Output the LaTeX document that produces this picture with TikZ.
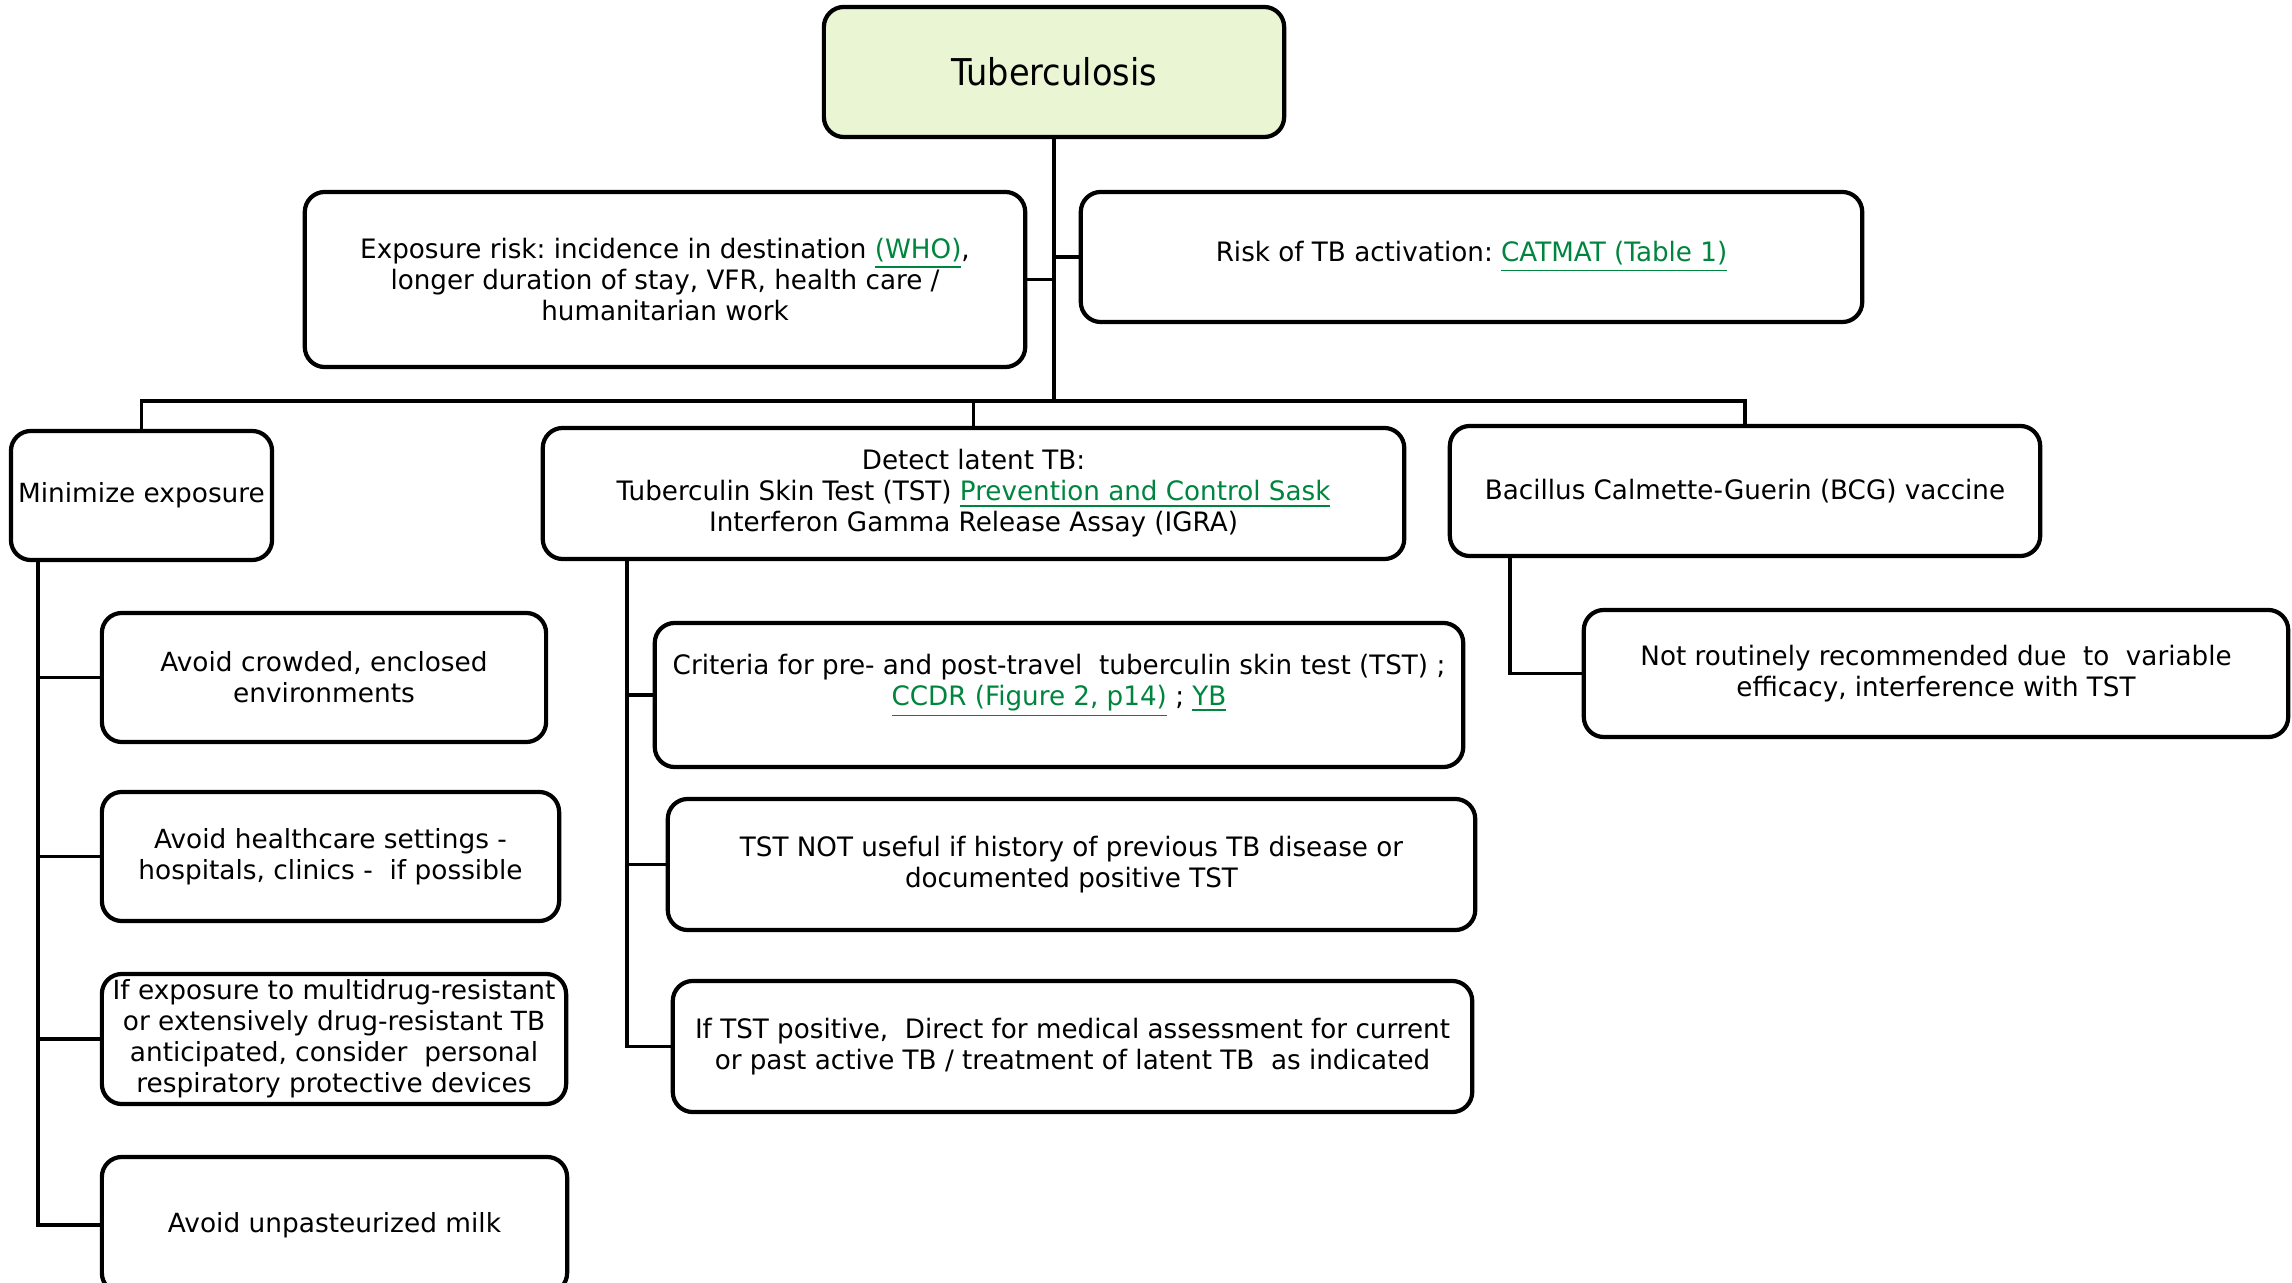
\documentclass[tikz,border=0pt]{standalone}
\usepackage{fontspec}
\setmainfont{DejaVu Sans}[FakeStretch=0.98]
\newfontfamily\widefont{DejaVu Sans}
\newfontfamily\titlefont{DejaVu Sans}[FakeStretch=0.91]
\definecolor{linkgreen}{RGB}{0,133,62}
\definecolor{tbfill}{RGB}{233,245,211}
\newcommand{\lnk}[1]{\textcolor{linkgreen}{\underline{#1}}}
\frenchspacing
\begin{document}
\begin{tikzpicture}[x=0.01cm,y=-0.01cm,
  box/.style={draw=black, line width=1.2pt, rounded corners=0.2cm, align=center, inner sep=0pt,
    font=\fontsize{7.6}{8.8}\selectfont},
  wbox/.style={box, font=\widefont\fontsize{7.5}{8.8}\selectfont},
  conn/.style={line width=1.1pt}]
\useasboundingbox (0,0) rectangle (2292,1283);
\clip (0,0) rectangle (2292,1283);

% top level
\node[box, fill=tbfill, minimum width=4.6cm, minimum height=1.3cm,
  font=\titlefont\fontsize{10.5}{12}\selectfont] (tb) at (1054,72) {Tuberculosis};
\node[box, minimum width=7.2cm, minimum height=1.75cm] (expo) at (665,279.5)
  {Exposure risk: incidence in destination \lnk{(WHO)},\\ longer duration of stay, VFR, health care /\\ humanitarian work};
\node[box, minimum width=7.81cm, minimum height=1.3cm] (risk) at (1471.5,257)
  {Risk of TB activation: \lnk{CATMAT (Table 1)}};

% second level
\node[wbox, minimum width=2.61cm, minimum height=1.29cm] (mini) at (141.5,495.5) {Minimize exposure};
\node[box, minimum width=8.61cm, minimum height=1.31cm] (detect) at (973.5,493.5)
  {Detect latent TB:\\ Tuberculin Skin Test (TST) \lnk{Prevention and Control Sask}\\ Interferon Gamma Release Assay (IGRA)};
\node[box, minimum width=5.9cm, minimum height=1.3cm] (bcg) at (1745,491)
  {Bacillus Calmette-Guerin (BCG) vaccine};

% minimize children
\node[wbox, minimum width=4.44cm, minimum height=1.29cm] (a1) at (324,677.5)
  {Avoid crowded, enclosed\\ environments};
\node[wbox, minimum width=4.57cm, minimum height=1.29cm] (a2) at (330.5,856.5)
  {Avoid healthcare settings -\\ hospitals, clinics -~ if possible};
\node[wbox, minimum width=4.64cm, minimum height=1.3cm] (a3) at (334,1039)
  {If exposure to multidrug-resistant\\ or extensively drug-resistant TB\\ anticipated, consider~ personal\\ respiratory protective devices};
\node[wbox, minimum width=4.65cm, minimum height=1.36cm] (a4) at (334.5,1225)
  {Avoid unpasteurized milk};

% detect children
\node[box, minimum width=8.08cm, minimum height=1.44cm] (c1) at (1059,695)
  {Criteria for pre- and post-travel~ tuberculin skin test (TST) ;\\ \lnk{CCDR (Figure 2, p14)} ; \lnk{YB}\\ \mbox{}};
\node[box, minimum width=8.07cm, minimum height=1.31cm] (c2) at (1071.5,864.5)
  {TST NOT useful if history of previous TB disease or\\ documented positive TST};
\node[box, minimum width=7.99cm, minimum height=1.31cm] (c3) at (1072.5,1046.5)
  {If TST positive,~ Direct for medical assessment for current\\ or past active TB / treatment of latent TB~ as indicated};

% bcg child
\node[box, minimum width=7.04cm, minimum height=1.27cm] (nr) at (1936,673.5)
  {Not routinely recommended due~ to~ variable\\ efficacy, interference with TST};

% connectors
\coordinate (hub) at (1054,401);
\draw[conn] (tb.south) -- (hub);
\draw[conn] (expo.east) -- (expo.east -| hub);
\draw[conn] (risk.west) -- (risk.west -| hub);
\draw[conn] (hub) -| (mini.north);
\draw[conn] (hub) -| (detect.north);
\draw[conn] (hub) -| (bcg.north);

\coordinate (mtrunk) at (38,560);
\draw[conn] (mtrunk) |- (a4.west);
\draw[conn] (a1.west -| mtrunk) -- (a1.west);
\draw[conn] (a2.west -| mtrunk) -- (a2.west);
\draw[conn] (a3.west -| mtrunk) -- (a3.west);

\coordinate (dtrunk) at (627,559);
\draw[conn] (dtrunk) |- (c3.west);
\draw[conn] (c1.west -| dtrunk) -- (c1.west);
\draw[conn] (c2.west -| dtrunk) -- (c2.west);

\coordinate (btrunk) at (1510,556);
\draw[conn] (btrunk) |- (nr.west);
\end{tikzpicture}
\end{document}
